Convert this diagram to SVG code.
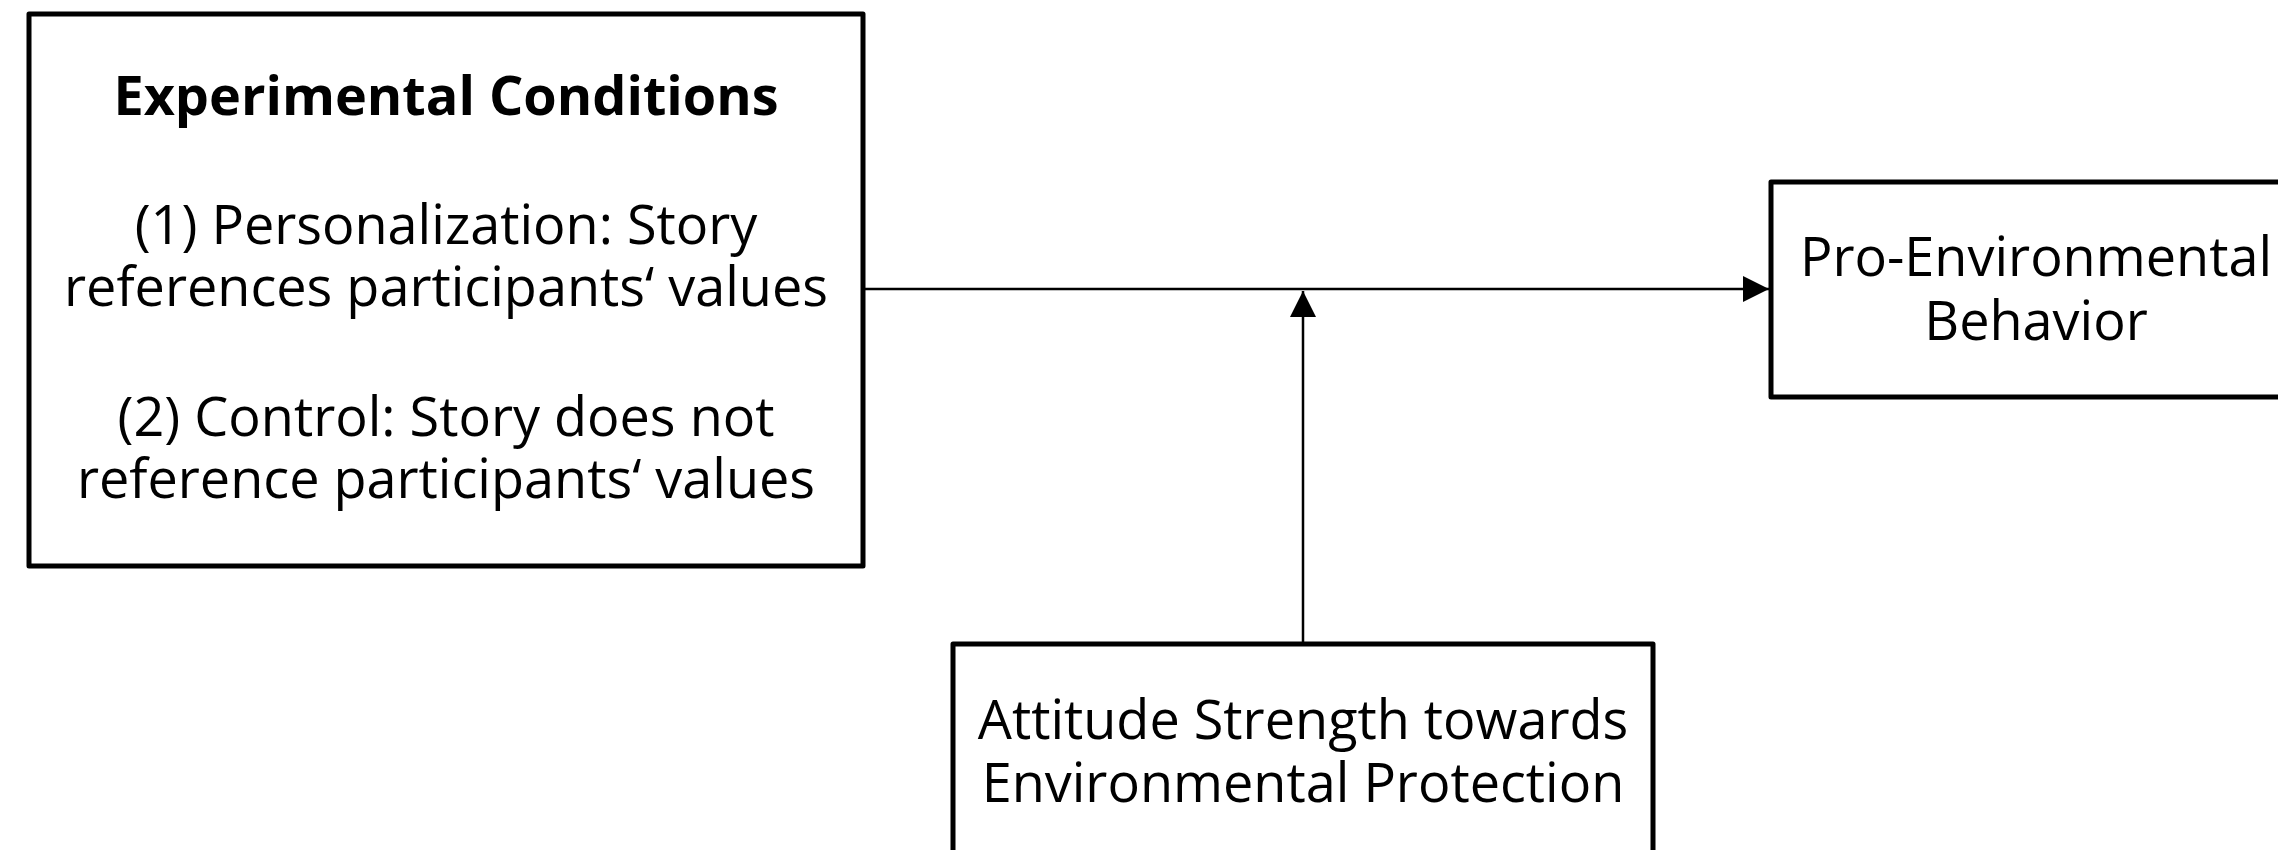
<svg xmlns="http://www.w3.org/2000/svg" width="2278" height="850" viewBox="0 0 2278 850">
<defs>
<style>
.box{fill:#fff;stroke:#000;stroke-width:5;stroke-linejoin:round}
.t{font-family:"Open Sans","Noto Sans",sans-serif;font-size:54px;fill:#000;text-anchor:middle}
.b{font-weight:bold}
.c{stroke:#000;stroke-width:2.5;fill:none}
</style>
<marker id="ah" viewBox="0 0 26 26" refX="26" refY="13" markerWidth="26" markerHeight="26" markerUnits="userSpaceOnUse" orient="auto">
<path d="M0,0 L26,13 L0,26 Z" fill="#000"/>
</marker>
</defs>
<rect width="2278" height="850" fill="#fff"/>
<g id="connectors">
<line class="c" x1="863" y1="289" x2="1769" y2="289" marker-end="url(#ah)"/>
<line class="c" x1="1303" y1="644" x2="1303" y2="291" marker-end="url(#ah)"/>
</g>
<g id="experimental-conditions">
<rect class="box" x="29" y="14" width="834" height="552"/>
<text class="t b" x="446" y="115">Experimental Conditions</text>
<text class="t" x="446" y="244">(1) Personalization: Story</text>
<text class="t" x="446" y="306">references participants‘ values</text>
<text class="t" x="446" y="436">(2) Control: Story does not</text>
<text class="t" x="446" y="498">reference participants‘ values</text>
</g>
<g id="pro-environmental-behavior">
<rect class="box" x="1771" y="182" width="540" height="215"/>
<text class="t" x="2036" y="276">Pro-Environmental</text>
<text class="t" x="2036" y="340">Behavior</text>
</g>
<g id="attitude-strength">
<rect class="box" x="953" y="644" width="700" height="240"/>
<text class="t" x="1303" y="739">Attitude Strength towards</text>
<text class="t" x="1303" y="802">Environmental Protection</text>
</g>
</svg>
